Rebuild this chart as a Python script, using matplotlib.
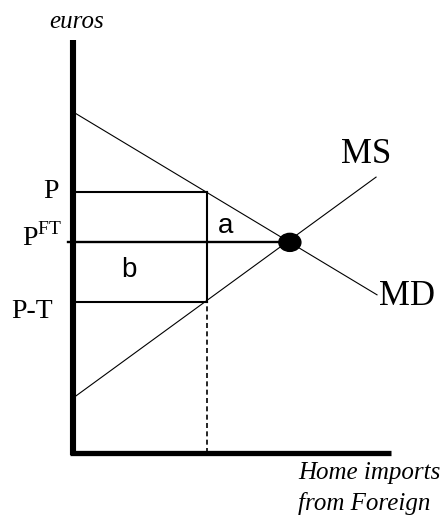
import matplotlib
matplotlib.use("Agg")
import matplotlib.pyplot as plt
from matplotlib.patches import Ellipse

plt.rcParams['mathtext.fontset'] = 'custom'
plt.rcParams['mathtext.rm'] = 'Liberation Serif'

SERIF = 'Liberation Serif'
SANS = 'Liberation Sans'

# model in axis units: quantity 0..100, price 0..100
md_q = [0, 95.6]
md_p = [82.6, 38.3]
ms_q = [0, 95.3]
ms_p = [13.3, 66.8]

p_home = 63.3      # P
p_ft = 51.0        # P^FT
p_foreign = 36.6   # P-T
q_tariff = 42.1    # imports under the tariff
q_ft = 68.2        # free-trade imports

price_labels = ['P', r'P$^{\mathrm{FT}}$', 'P-T']
price_levels = [p_home, p_ft, p_foreign]
# label nudges (text sits a little off the lines in the original)
label_dq = [-4.5, -3.3, -6.2]
label_dp = [0.0, 1.2, -2.4]

fig = plt.figure(figsize=(4.41, 5.16), dpi=100)
ax = fig.add_axes([73/441, 63/516, 318/441, 413/516])
ax.set_xlim(0, 100)
ax.set_ylim(0, 100)
ax.axis('off')

# axes
ax.plot([0, 0], [-0.5, 100], color='black', lw=4.4, solid_capstyle='butt', clip_on=False)
ax.plot([-1, 100], [0, 0], color='black', lw=3.8, solid_capstyle='butt', clip_on=False)

# demand / supply
ax.plot(md_q, md_p, color='black', lw=0.8, clip_on=False)
ax.plot(ms_q, ms_p, color='black', lw=0.8, clip_on=False)

# price lines and the box
ax.plot([0, q_tariff], [p_home, p_home], color='black', lw=1.5)
ax.plot([0, q_tariff], [p_foreign, p_foreign], color='black', lw=1.5)
ax.plot([-1.6, q_ft], [p_ft, p_ft], color='black', lw=1.7, clip_on=False)
ax.plot([q_tariff, q_tariff], [p_foreign, p_home], color='black', lw=1.5)
ax.plot([q_tariff, q_tariff], [0, p_foreign], color='black', lw=1.2, dashes=(3, 2))

# equilibrium dot
ax.add_patch(Ellipse((q_ft, p_ft), 22/3.18, 18/4.13, color='black', zorder=5))

for lab, lev, dq, dp in zip(price_labels, price_levels, label_dq, label_dp):
    ax.text(dq, lev + dp, lab, ha='right', va='center', fontsize=20, family=SERIF, clip_on=False)

ax.text(48.1, 55.0, 'a', ha='center', va='center', fontsize=20, family=SANS)
ax.text(17.6, 44.3, 'b', ha='center', va='center', fontsize=20, family=SANS)

ax.text(92.1, 72.2, 'MS', ha='center', va='center', fontsize=25, family=SERIF, clip_on=False)
ax.text(105, 37.8, 'MD', ha='center', va='center', fontsize=25, family=SERIF, clip_on=False)

ax.text(1, 104.4, 'euros', ha='center', va='center', fontsize=18, family=SERIF, style='italic', clip_on=False)
ax.text(70.8, -4.8, 'Home imports', ha='left', va='center', fontsize=18, family=SERIF, style='italic', clip_on=False)
ax.text(70.8, -12.3, 'from Foreign', ha='left', va='center', fontsize=18, family=SERIF, style='italic', clip_on=False)

fig.savefig('out.png', dpi=100)
